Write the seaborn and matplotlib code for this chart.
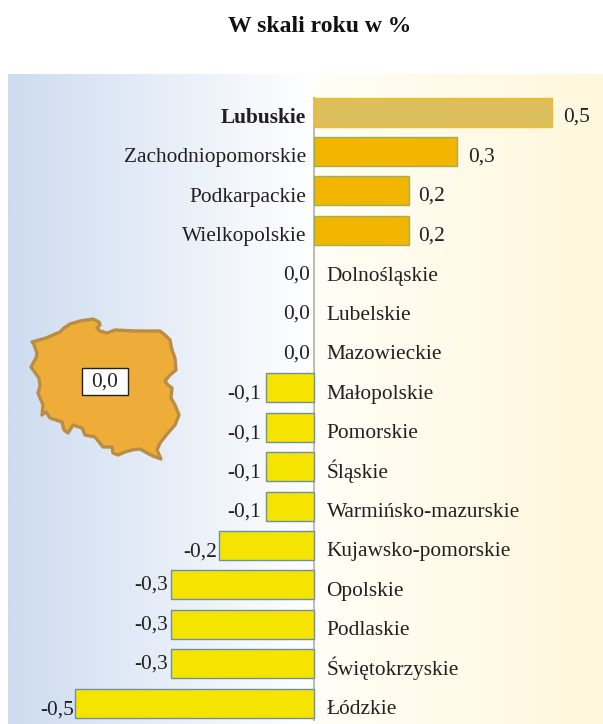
import numpy as np
import pandas as pd
import seaborn as sns
import matplotlib.pyplot as plt
from matplotlib.colors import LinearSegmentedColormap
from matplotlib.patches import Polygon, Rectangle

# Dane
regions = ['Lubuskie', 'Zachodniopomorskie', 'Podkarpackie', 'Wielkopolskie',
           'Dolnośląskie', 'Lubelskie', 'Mazowieckie', 'Małopolskie', 'Pomorskie',
           'Śląskie', 'Warmińsko-mazurskie', 'Kujawsko-pomorskie', 'Opolskie',
           'Podlaskie', 'Świętokrzyskie', 'Łódzkie']
values = [0.5, 0.3, 0.2, 0.2, 0.0, 0.0, 0.0, -0.1, -0.1, -0.1, -0.1, -0.2, -0.3, -0.3, -0.3, -0.5]
poland_value = '0,0'

# Kontur mapy (piksele obrazka)
map_outline = [(32, 342), (46, 338), (60, 332), (64, 328), (70, 324), (80, 321), (93, 319), (99, 322),
               (100, 325), (97, 328), (100, 331), (107, 333), (115, 330), (135, 331), (160, 331),
               (165, 335), (170, 340), (172, 350), (175, 358), (176, 370), (170, 375), (165, 381),
               (168, 385), (172, 388), (171, 398), (175, 405), (179, 415), (175, 425), (168, 433),
               (160, 443), (157, 450), (161, 459), (153, 456), (147, 453), (140, 449), (132, 450),
               (125, 452), (118, 455), (113, 453), (112, 447), (103, 447), (99, 442), (95, 437),
               (85, 435), (82, 428), (73, 425), (68, 433), (64, 430), (62, 422), (50, 418),
               (46, 412), (42, 415), (43, 405), (38, 393), (40, 386), (39, 378), (31, 367),
               (36, 358), (37, 353), (33, 342)]

plt.rcParams['font.family'] = ['Liberation Serif', 'DejaVu Serif']
W, H = 603, 724
X0, Y0, STEP = 314, 112, 39.4
SCALE = 477

fig = plt.figure(figsize=(W / 100, H / 100), dpi=100, facecolor='white')
ax = fig.add_axes([8 / W, 0, (W - 8) / W, 650 / H])

df = pd.DataFrame({'region': regions, 'value': values})
palette = {}
for r, v in zip(regions, values):
    if r == 'Lubuskie':
        palette[r] = '#dcbf5c'
    elif v > 0:
        palette[r] = '#f2b600'
    else:
        palette[r] = '#f5e400'
sns.barplot(data=df, x='value', y='region', hue='region', palette=palette, legend=False,
            width=29 / STEP, saturation=1, ax=ax, zorder=3)

# Gradient tla
xlim = ((8 - X0) / SCALE, (W - X0) / SCALE)
ylim = ((724 - Y0) / STEP, (74 - Y0) / STEP)
cmap = LinearSegmentedColormap.from_list('bg', [(0, '#cddcf0'), ((X0 - 8) / (W - 8), '#ffffff'),
                                                ((X0 - 6) / (W - 8), '#fffef6'), (1, '#fff7dc')])
ax.imshow(np.linspace(0, 1, 600).reshape(1, -1), cmap=cmap, aspect='auto', zorder=0,
          extent=[xlim[0], xlim[1], ylim[0], ylim[1]])
ax.set_xlim(xlim)
ax.set_ylim(ylim)
ax.axis('off')

ax.vlines(0, -0.38, 15.45, color='#bdbdbd', lw=1.5, zorder=2)

for bar, v, r in zip(ax.patches, values, regions):
    if v == 0:
        bar.set_visible(False)
    elif r == 'Lubuskie':
        bar.set_edgecolor('#f0bd20')
    elif v > 0:
        bar.set_edgecolor('#9ab05a')
    else:
        bar.set_edgecolor('#6f8fa8')
    bar.set_linewidth(1.0)

PX = 0.72  # piksel w punktach
FS = 15.4
# przesuniecia etykiet wartosci (x, y w pikselach, y do linii bazowej)
shifts = {0.5: (11, -10), 0.3: (11, -10), 0.2: (9, -10), 0.0: (-4, -10),
          -0.1: (-5, -11), -0.2: (-1, -11), -0.3: (-3, -5), -0.5: (-1, -12)}
for i, (r, v) in enumerate(zip(regions, values)):
    label = f'{v:.1f}'.replace('.', ',')
    kw = dict(textcoords='offset points', va='baseline', fontsize=FS, color='#231f20', zorder=5)
    dx, dy = shifts[v]
    if v > 0:
        ax.annotate(r, (0, i), xytext=(-8 * PX, -11 * PX), ha='right',
                    fontweight='bold' if r == 'Lubuskie' else 'normal', **kw)
        ax.annotate(label, (v, i), xytext=(dx * PX, dy * PX), ha='left', **kw)
    else:
        ax.annotate(r, (0, i), xytext=(12.5 * PX, -11 * PX), ha='left', **kw)
        ax.annotate(label, (v, i), xytext=(dx * PX, dy * PX), ha='right', **kw)

# Warstwa mapy i tytul
over = fig.add_axes([0, 0, 1, 1], facecolor='none')
over.set_xlim(0, W)
over.set_ylim(H, 0)
over.axis('off')
over.add_patch(Polygon(map_outline, closed=True, facecolor='#eead38', edgecolor='#b98d45', lw=2.4, joinstyle='round'))
over.add_patch(Rectangle((82, 368), 46, 27, facecolor='white', edgecolor='#222222', lw=1))
over.text(105, 382.5, poland_value, ha='center', va='center', fontsize=FS, color='#231f20')
over.text(320, 26, 'W skali roku w %', ha='center', va='center', fontsize=17, fontweight='bold', color='#111111')

fig.savefig('out.png', dpi=100)
